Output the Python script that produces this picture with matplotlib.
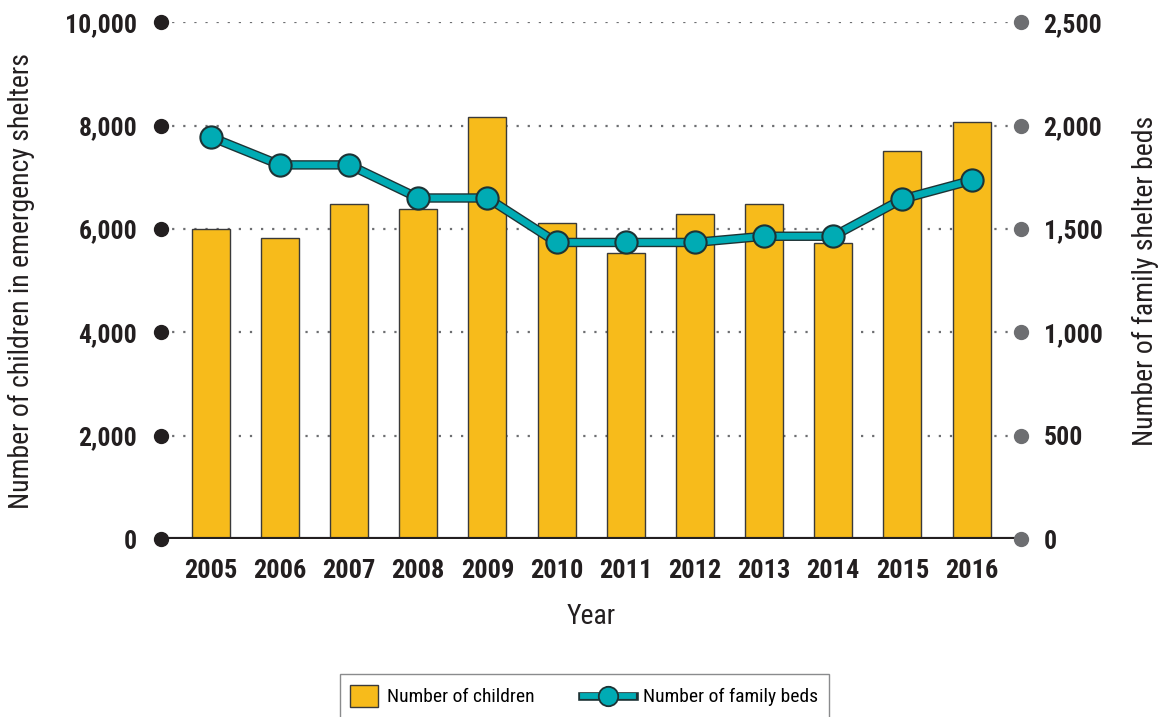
import numpy as np
import matplotlib
matplotlib.use("Agg")
import matplotlib.pyplot as plt
from matplotlib.patches import Patch
from matplotlib.lines import Line2D
from matplotlib.legend_handler import HandlerBase

plt.rcParams['font.family'] = ['Roboto Condensed', 'Archivo Narrow', 'PT Sans Narrow',
                               'IBM Plex Sans Condensed', 'Fira Sans Condensed',
                               'Sofia Sans Condensed', 'DejaVu Sans']

years = ['2005', '2006', '2007', '2008', '2009', '2010',
         '2011', '2012', '2013', '2014', '2015', '2016']
children = [6000, 5820, 6480, 6380, 8160, 6110, 5530, 6290, 6480, 5730, 7500, 8070]
beds = [1945, 1810, 1810, 1650, 1650, 1435, 1435, 1435, 1465, 1465, 1645, 1735]
left_ticks = [0, 2000, 4000, 6000, 8000, 10000]
right_ticks = [0, 500, 1000, 1500, 2000, 2500]

bar_col = '#f7bb1b'
teal = '#00abb4'
dark = '#231f20'
grey = '#6d6e71'
outline = '#1d3335'

fig = plt.figure(figsize=(11.58, 7.17), dpi=100)
ax = fig.add_axes([0.139, 0.248, 0.743, 0.721])
ax2 = ax.twinx()

x = np.arange(len(years))
xl = (-0.72, len(years) - 1 + 0.72)

# dotted gridlines behind the bars
for t in left_ticks[1:]:
    ax.plot(xl, [t, t], ls=(0, (1, 4)), color=grey, lw=1.6, zorder=0)

ax.bar(x, children, width=0.55, color=bar_col, edgecolor='#3a3a3a', lw=1.0, zorder=2)
ax.plot(xl, [0, 0], color=dark, lw=3, zorder=3, solid_capstyle='butt')

ax.set_xlim(*xl)
ax.set_ylim(0, 10000)
ax2.set_ylim(0, 2500)

# dots at the axis ends
ax.plot([xl[0]] * len(left_ticks), left_ticks, 'o', color=dark, ms=10, clip_on=False, zorder=5)
ax2.plot([xl[1]] * len(right_ticks), right_ticks, 'o', color=grey, ms=10, clip_on=False, zorder=5)

# family beds line
ax2.plot(x, beds, color=outline, lw=6.8, solid_capstyle='round', zorder=3)
ax2.plot(x, beds, color=teal, lw=4.8, solid_capstyle='round', zorder=4)
ax2.plot(x, beds, 'o', color=teal, ms=16, mec=outline, mew=1.5, zorder=5)

for a in (ax, ax2):
    for s in a.spines.values():
        s.set_visible(False)

ax.set_xticks(x)
ax.set_xticklabels(years, fontsize=19, fontweight='bold', color=dark)
ax.tick_params(axis='x', length=0, pad=14)
ax.set_yticks(left_ticks)
ax.set_yticklabels([f'{t:,}' for t in left_ticks], fontsize=18.5, fontweight='bold', color=dark)
ax.tick_params(axis='y', length=0, pad=17)
ax2.set_yticks(right_ticks)
ax2.set_yticklabels([f'{t:,}' for t in right_ticks], fontsize=18.5, fontweight='bold', color=dark)
ax2.tick_params(axis='y', length=0, pad=16)

ax.set_xlabel('Year', fontsize=20, color=dark, labelpad=15)
ax.set_ylabel('Number of children in emergency shelters', fontsize=20, color=dark)
ax2.set_ylabel('Number of family shelter beds', fontsize=20, color=dark)
ax.yaxis.set_label_coords(-0.1465, 0.5)
ax2.yaxis.set_label_coords(1.128, 0.5)


class BedsHandler(HandlerBase):
    # line with a marker, stretched to the left into the column gap
    def create_artists(self, legend, orig_handle, xdescent, ydescent,
                       width, height, fontsize, trans):
        x0 = -xdescent - 17.4
        x1 = -xdescent + width
        y = -ydescent + height / 2
        a = Line2D([x0, x1], [y, y], color=outline, lw=6.2, transform=trans)
        b = Line2D([x0 + 0.7, x1 - 0.7], [y, y], color=teal, lw=4.2, transform=trans)
        c = Line2D([(x0 + x1) / 2], [y], marker='o', ms=14, mfc=teal, mec=outline,
                   mew=1.3, ls='none', transform=trans)
        return [a, b, c]


handles = [
    Patch(facecolor=bar_col, edgecolor='#3a3a3a', lw=1.0),
    Line2D([], [], color=teal),
]
fig.legend(handles, ['Number of children', 'Number of family beds'],
           loc='upper center', bbox_to_anchor=(0.5047, 0.060), ncol=2, frameon=True,
           fancybox=False, edgecolor=grey, fontsize=14, handlelength=1.43,
           columnspacing=3.7, borderpad=0.55, handleheight=1.39, handletextpad=0.46,
           borderaxespad=0, handler_map={Line2D: BedsHandler()})

fig.savefig('out.png', dpi=100)
